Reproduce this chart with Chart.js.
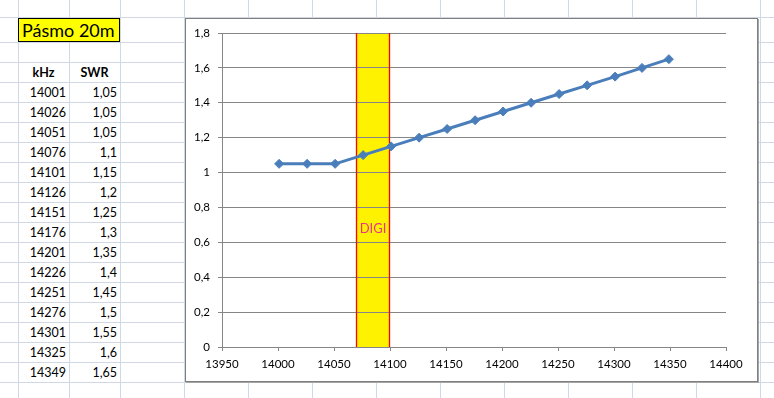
<!DOCTYPE html>
<html>
<head>
<meta charset="utf-8">
<script src="https://cdn.jsdelivr.net/npm/chart.js@4.4.0/dist/chart.umd.min.js"></script>
<style>
  html, body { margin: 0; padding: 0; background: #fff; }
  body { width: 774px; height: 398px; position: relative; overflow: hidden; font-family: Lato, sans-serif; }
  .gl { position: absolute; background: #d0d7e5; }
  #title { position: absolute; left: 18px; top: 18px; width: 102px; height: 24px; box-sizing: border-box;
           background: #ffff00; border: 1px solid #000; font-size: 18px; line-height: 23px; padding-left: 3px; }
  .cell { position: absolute; height: 20px; width: 51px; box-sizing: border-box; font-size: 12.5px;
          line-height: 20px; padding-top: 1px; color: #000; }
  .num { text-align: right; padding-right: 3px; }
  .head { text-align: center; font-weight: bold; }
  #frame { position: absolute; left: 185px; top: 18px; width: 571px; height: 362px; background: #fff;
           border: 1px solid #7f7f7f; box-shadow: 1px 1px 0 #a5a5a5; }
  #c { position: absolute; left: 0; top: 0; }
</style>
</head>
<body>
<div id="sheet"></div>
<div id="title">Pásmo 20m</div>
<div id="table"></div>
<div id="frame"></div>
<canvas id="c" width="774" height="398"></canvas>
<script>
// data read from the sheet
const kHz = [14001, 14026, 14051, 14076, 14101, 14126, 14151, 14176, 14201, 14226, 14251, 14276, 14301, 14325, 14349];
const swr = [1.05, 1.05, 1.05, 1.1, 1.15, 1.2, 1.25, 1.3, 1.35, 1.4, 1.45, 1.5, 1.55, 1.6, 1.65];
const headers = ['kHz', 'SWR'];
const xRange = [13950, 14400];
const xStep = 50;
const yRange = [0, 1.8];
const yStep = 0.2;
const digiBand = [14070, 14100];
const digiText = 'DIGI';

const comma = v => String(v).replace('.', ',');

// spreadsheet grid
const sheet = document.getElementById('sheet');
const colLines = [18, 69, 120, 184, 248, 312, 376, 440, 504, 568, 632, 696, 760];
const rowLines = [17, 42];
for (let y = 62; y <= 382; y += 20) rowLines.push(y);
colLines.forEach(x => {
  const d = document.createElement('div');
  d.className = 'gl';
  d.style.cssText = `left:${x}px;top:0;width:1px;height:398px`;
  sheet.appendChild(d);
});
rowLines.forEach(y => {
  const d = document.createElement('div');
  d.className = 'gl';
  d.style.cssText = `left:0;top:${y}px;width:774px;height:1px`;
  sheet.appendChild(d);
});

// table cells
const table = document.getElementById('table');
const addCell = (txt, x, y, cls) => {
  const d = document.createElement('div');
  d.className = 'cell ' + cls;
  d.style.left = x + 'px';
  d.style.top = y + 'px';
  d.textContent = txt;
  table.appendChild(d);
};
addCell(headers[0], 18, 62, 'head');
addCell(headers[1], 69, 62, 'head');
kHz.forEach((k, i) => {
  addCell(String(k), 18, 82 + i * 20, 'num');
  addCell(comma(swr[i]), 69, 82 + i * 20, 'num');
});

const gray = '#868686';

const digiPlugin = {
  id: 'digi',
  beforeDraw(chart) {
    const { ctx, scales: { x, y } } = chart;
    const x0 = x.getPixelForValue(digiBand[0]);
    const x1 = x.getPixelForValue(digiBand[1]);
    const top = y.getPixelForValue(yRange[1]);
    const bottom = y.getPixelForValue(yRange[0]);
    ctx.save();
    ctx.fillStyle = '#fff200';
    ctx.fillRect(x0, top, x1 - x0, bottom - top);
    ctx.restore();
  },
  beforeDatasetsDraw(chart) {
    const { ctx, scales: { x, y } } = chart;
    const x0 = Math.round(x.getPixelForValue(digiBand[0])) + 0.5;
    const x1 = Math.round(x.getPixelForValue(digiBand[1])) - 0.5;
    const top = y.getPixelForValue(yRange[1]);
    const bottom = y.getPixelForValue(yRange[0]);
    ctx.save();
    ctx.strokeStyle = '#ff0000';
    ctx.lineWidth = 1.3;
    ctx.beginPath();
    ctx.moveTo(x0, top); ctx.lineTo(x0, bottom);
    ctx.moveTo(x1, top); ctx.lineTo(x1, bottom);
    ctx.stroke();
    ctx.fillStyle = '#e8368f';
    ctx.font = '13px Lato';
    ctx.textAlign = 'center';
    ctx.textBaseline = 'middle';
    ctx.fillText(digiText, (x0 + x1) / 2, y.getPixelForValue(0.68));
    ctx.restore();
  }
};

new Chart(document.getElementById('c'), {
  type: 'line',
  data: {
    datasets: [{
      label: 'SWR',
      data: kHz.map((k, i) => ({ x: k, y: swr[i] })),
      borderColor: '#4a7ebb',
      backgroundColor: '#4a7ebb',
      borderWidth: 3,
      tension: 0,
      fill: false,
      pointStyle: 'rectRot',
      pointRadius: 4.5,
      pointBorderWidth: 1,
      pointBackgroundColor: '#4a7ebb',
      pointBorderColor: '#4a7ebb'
    }]
  },
  options: {
    responsive: false,
    animation: false,
    devicePixelRatio: 1,
    layout: { padding: { left: 182, right: 48, top: 33, bottom: 21 } },
    plugins: { legend: { display: false }, tooltip: { enabled: false } },
    scales: {
      x: {
        type: 'linear',
        min: xRange[0],
        max: xRange[1],
        afterFit: s => { s.height = 30; },
        ticks: {
          stepSize: xStep,
          padding: 6,
          color: '#000',
          font: { family: 'Lato', size: 11.5 },
          callback: v => String(v)
        },
        grid: { drawOnChartArea: false, tickLength: 4, color: gray },
        border: { color: gray }
      },
      y: {
        min: yRange[0],
        max: yRange[1],
        afterFit: s => { s.width = 40; },
        ticks: {
          stepSize: yStep,
          padding: 8,
          color: '#000',
          font: { family: 'Lato', size: 11.5 },
          callback: v => comma(Math.round(v * 10) / 10)
        },
        grid: { tickLength: 4, color: gray },
        border: { color: gray }
      }
    }
  },
  plugins: [digiPlugin]
});
</script>
</body>
</html>
